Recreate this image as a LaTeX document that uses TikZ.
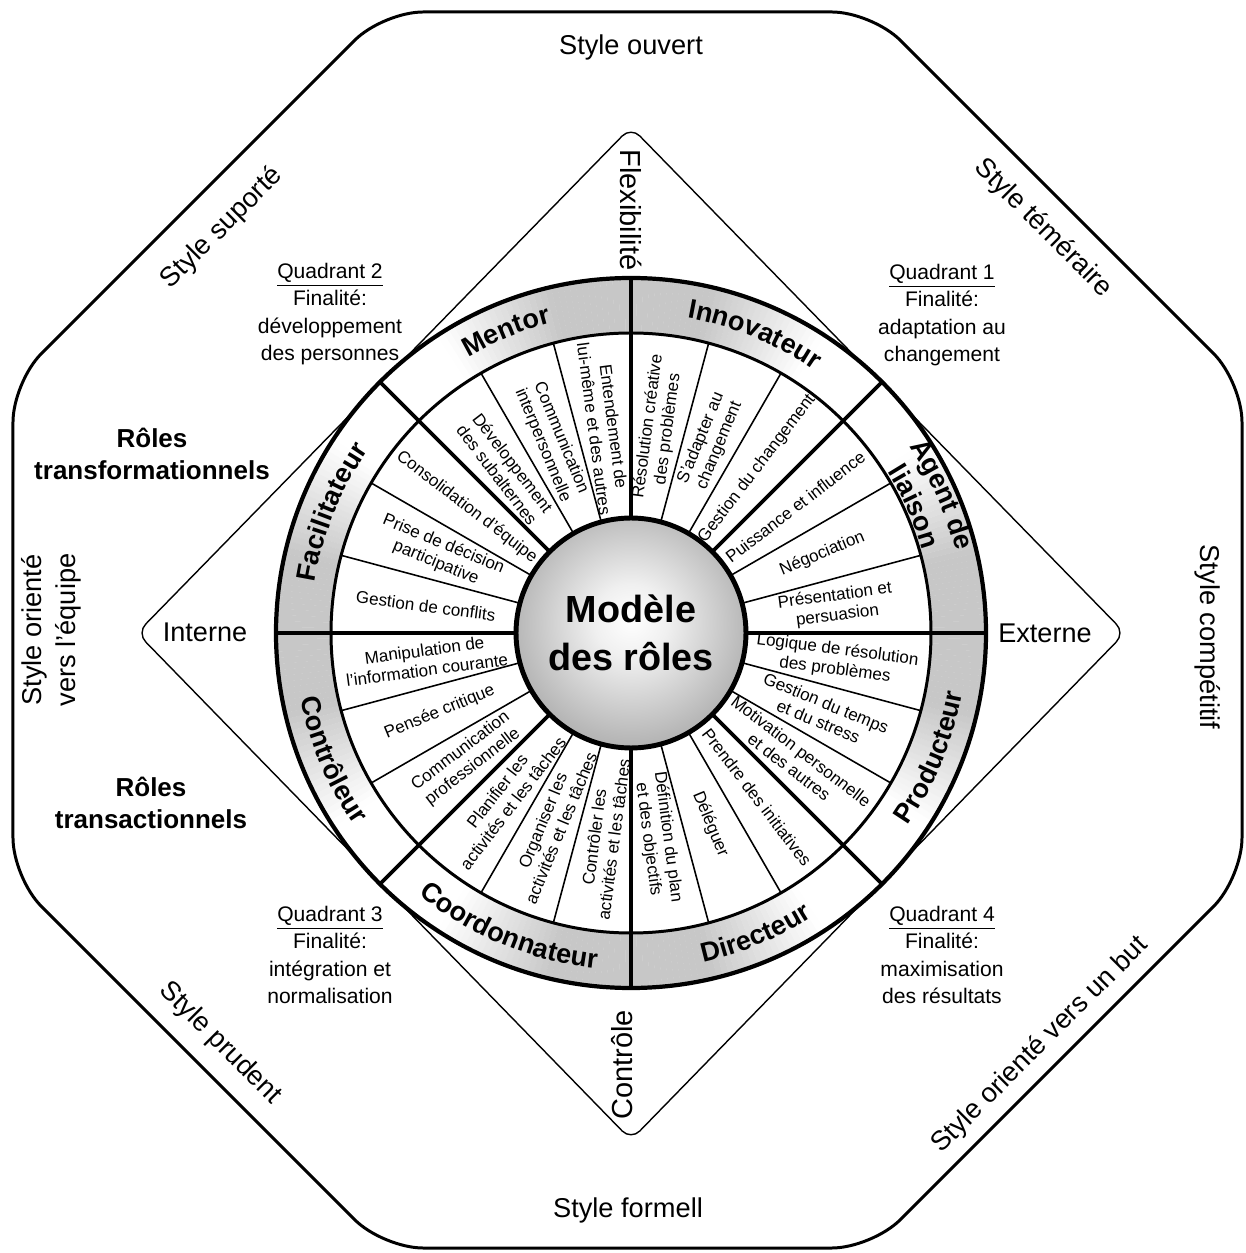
\documentclass[tikz,border=0pt]{standalone}
\usepackage{fontspec}
\setmainfont{Liberation Sans}
\usetikzlibrary{decorations.text}

% light centre fading to mid grey at the rim of the hub
\pgfdeclareradialshading{hubshade}{\pgfpoint{0bp}{3bp}}{%
  color(0bp)=(white); color(8bp)=(black!6); color(25bp)=(black!28);
  color(45bp)=(black!50); color(52bp)=(black!55); color(70bp)=(black!55)}

\newcommand\rolefont{\fontsize{15.4}{18}\selectfont\bfseries}
% role name on the outer band: clockwise, letters facing outward
\newcommand\roleup[3]{%
  \path[decorate, decoration={text along path, text align=center, text={|\rolefont|#3}}]
    (#1+25:#2) arc[start angle=#1+25, end angle=#1-25, radius=#2];}
% role name on the outer band: counter-clockwise, letters facing inward
\newcommand\roledown[3]{%
  \path[decorate, decoration={text along path, text align=center, text={|\rolefont|#3}}]
    (#1-25:#2) arc[start angle=#1-25, end angle=#1+25, radius=#2];}

\begin{document}
\begin{tikzpicture}[x=0.02cm, y=0.02cm,
  outline/.style={line width=1.7pt, rounded corners=0.8cm},
  axisline/.style={line width=0.8pt, rounded corners=0.25cm},
  thinspoke/.style={line width=0.9pt},
  thickspoke/.style={line width=2.1pt},
  bandring/.style={line width=1.7pt},
  rim/.style={line width=2.4pt},
  hub/.style={circle, draw, line width=2.8pt, minimum size=4.6cm, inner sep=0pt,
    shade, shading=hubshade, align=center, font=\fontsize{21.5}{27}\selectfont\bfseries},
  skill/.style={align=center, inner sep=0pt, font=\fontsize{9.7}{11.3}\selectfont},
  stylelabel/.style={font=\fontsize{15.5}{19.5}\selectfont, align=center, inner sep=0pt},
  axislabel/.style={font=\fontsize{16.5}{19}\selectfont, inner sep=0pt},
  sidelabel/.style={font=\fontsize{15.4}{18}\selectfont, inner sep=0pt},
  rolegroup/.style={font=\fontsize{14.8}{17.8}\selectfont\bfseries, align=center, inner sep=0pt},
  quadrant/.style={font=\fontsize{12}{15.5}\selectfont, align=center, inner sep=0pt},
]
\useasboundingbox (-631,-620) rectangle (614,633);

% outer octagon of management styles
\draw[outline] (-618,251) -- (-248,621) -- (241,621) -- (611,251) -- (611,-245)
  -- (241,-615) -- (-248,-615) -- (-618,-245) -- cycle;

% flexibility / control / internal / external diamond
\draw[axisline] (0,506) -- (494,0) -- (0,-507) -- (-494,0) -- cycle;

% wheel background
\fill[white] (0,0) circle[radius=355];

% grey shading of the role band, strongest near the two axes
\foreach \ax in {0,90,180,270}{
  \foreach \d in {-33,...,32}{
    \pgfmathsetmacro\lvl{max(0,min(22,22*(33-abs(\d+0.5))/20))}
    \fill[black!\lvl] (\ax+\d:300) arc[start angle=\ax+\d, end angle=\ax+\d+1.05, radius=300]
      -- (\ax+\d+1.05:355) arc[start angle=\ax+\d+1.05, end angle=\ax+\d, radius=355] -- cycle;
  }
}

% spokes between competencies
\foreach \a in {15,30,60,75,105,120,150,165,195,210,240,255,285,300,330,345}
  \draw[thinspoke] (\a:115) -- (\a:300);
% spokes between roles and quadrants
\foreach \a in {0,45,...,315}
  \draw[thickspoke] (\a:115) -- (\a:355);

\draw[bandring] (0,0) circle[radius=300];
\draw[rim] (0,0) circle[radius=355];

\node[hub] (hub) at (0,0) {Modèle\\des rôles};

% role names
\roleup{112.5}{320}{Mentor}
\roleup{67.5}{320}{Innovateur}
\roleup{24}{335}{Agent de}
\roleup{24}{303}{liaison}
\roleup{158}{320}{Facilitateur}
\roledown{-22.5}{337}{Producteur}
\roledown{-67.5}{337}{Directeur}
\roledown{247.5}{337}{Coordonnateur}
\roledown{203}{337}{Contrôleur}

% competencies
\foreach \a/\t [count=\i] in {
  172.5/{Gestion de conflits},
  157.5/{Prise de décision\\participative},
  142.5/{Consolidation d'équipe},
  127.5/{Développement\\des subalternes},
  112.5/{Communication\\interpersonnelle},
  97.5/{Entendement de\\lui-même et des autres},
  82.5/{Résolution créative\\des problèmes},
  67.5/{S'adapter au\\changement},
  52.5/{Gestion du changement},
  37.5/{Puissance et influence},
  22.5/{Négociation},
  7.5/{Présentation et\\persuasion},
  -7.5/{Logique de résolution\\des problèmes},
  -22.5/{Gestion du temps\\et du stress},
  -37.5/{Motivation personnelle\\et des autres},
  -52.5/{Prendre des initiatives},
  -67.5/{Déléguer},
  -82.5/{Définition du plan\\et des objectifs},
  262.5/{Contrôler les\\activités et les tâches},
  247.5/{Organiser les\\activités et les tâches},
  232.5/{Planifier les\\activités et les tâches},
  217.5/{Communication\\professionnelle},
  202.5/{Pensée critique},
  187.5/{Manipulation de\\l'information courante}}{
  \pgfmathsetmacro\rot{ifthenelse(\a>90,\a-180,\a)}
  \node[skill, rotate=\rot] (skill\i) at (\a:207) {\t};
}

% diamond axis labels
\node[axislabel, rotate=-90] (flex) at (0,423) {Flexibilité};
\node[axislabel, rotate=90] (ctrl) at (-9,-432) {Contrôle};
\node[sidelabel] (interne) at (-426,1) {Interne};
\node[sidelabel] (externe) at (414,0) {Externe};

% styles around the octagon
\node[stylelabel] (ouvert) at (0,586) {Style ouvert};
\node[stylelabel] (formell) at (-3,-577) {Style formell};
\node[stylelabel, rotate=45] (suporte) at (-409,405) {Style suporté};
\node[stylelabel, rotate=-45] (temeraire) at (412,405) {Style téméraire};
\node[stylelabel, rotate=90] (equipe) at (-580,3) {Style orienté\\vers l'équipe};
\node[stylelabel, rotate=-90] (competitif) at (577,-4) {Style compétitif};
\node[stylelabel, rotate=-45] (prudent) at (-411,-410) {Style prudent};
\node[stylelabel, rotate=45] (but) at (409,-412) {Style orienté vers un but};

% role groups
\node[rolegroup] (transfo) at (-479,179) {Rôles\\transformationnels};
\node[rolegroup] (transac) at (-480,-170) {Rôles\\transactionnels};

% quadrant purposes
\node[quadrant] (q2) at (-301,319) {\underline{Quadrant 2}\\Finalité:\\développement\\des personnes};
\node[quadrant] (q1) at (311,318) {\underline{Quadrant 1}\\Finalité:\\adaptation au\\changement};
\node[quadrant] (q3) at (-301,-322) {\underline{Quadrant 3}\\Finalité:\\intégration et\\normalisation};
\node[quadrant] (q4) at (311,-322) {\underline{Quadrant 4}\\Finalité:\\maximisation\\des résultats};
\end{tikzpicture}
\end{document}
